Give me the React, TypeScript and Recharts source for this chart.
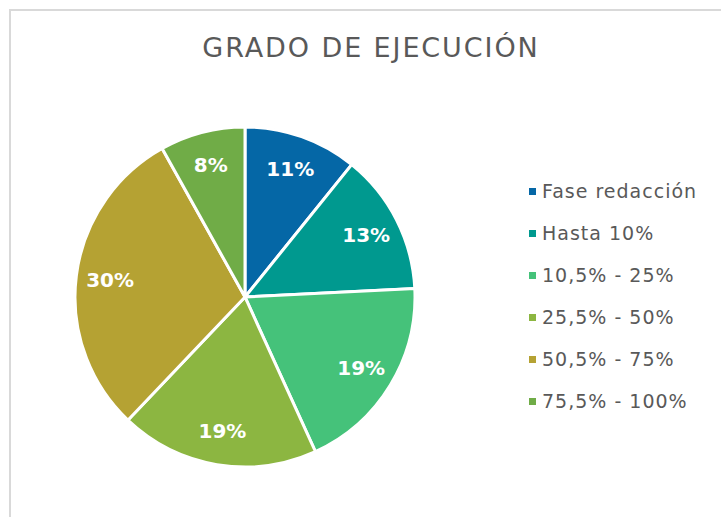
import React from 'react';
import { PieChart, Pie, Cell, Legend } from 'recharts';

const categories = ['Fase redacción', 'Hasta 10%', '10,5% - 25%', '25,5% - 50%', '50,5% - 75%', '75,5% - 100%'];
const shares = [10.8, 13.4, 19.0, 18.9, 29.8, 8.1];
const colors = ['#0567a6', '#00998f', '#45c27a', '#8cb641', '#b5a233', '#70ac47'];
const title = 'GRADO DE EJECUCIÓN';

const data = categories.map((name, i) => ({ name, value: shares[i] }));

const FONT = '"DejaVu Sans", sans-serif';
const RAD = Math.PI / 180;

const renderLabel = (props: any) => {
  const { cx, cy, midAngle, outerRadius, value } = props;
  const r = outerRadius * 0.8;
  const x = cx + r * Math.cos(-midAngle * RAD);
  const y = cy + r * Math.sin(-midAngle * RAD);
  return (
    <text x={x} y={y} fill="#ffffff" textAnchor="middle" dominantBaseline="central"
      fontFamily={FONT} fontWeight="bold" fontSize={20}>
      {Math.round(value) + '%'}
    </text>
  );
};

const renderLegend = () => (
  <div style={{ fontFamily: FONT }}>
    {categories.map((c, i) => (
      <div key={c} style={{ display: 'flex', alignItems: 'center', height: 42 }}>
        <div style={{ width: 7, height: 7, background: colors[i], marginRight: 6 }} />
        <span style={{ fontSize: 19, letterSpacing: 1.0, color: '#595959', whiteSpace: 'nowrap' }}>{c}</span>
      </div>
    ))}
  </div>
);

export default function App() {
  return (
    <div style={{ position: 'absolute', left: 0, top: 0, width: 721, height: 517, overflow: 'hidden', background: '#fff' }}>
      <div style={{ position: 'absolute', left: 9, top: 9, width: 800, height: 600, border: '2px solid #d9d9d9', boxSizing: 'border-box' }} />
      <div style={{ position: 'absolute', left: 0, top: 32, width: 742, textAlign: 'center', fontFamily: FONT, fontSize: 27, letterSpacing: 1.9, color: '#595959', whiteSpace: 'nowrap' }}>
        {title}
      </div>
      <div style={{ position: 'absolute', left: 0, top: 0 }}>
        <PieChart width={721} height={517}>
          <Pie data={data} dataKey="value" nameKey="name" cx={240} cy={292} outerRadius={170}
            startAngle={90} endAngle={-270} stroke="#ffffff" strokeWidth={3}
            label={renderLabel} labelLine={false} isAnimationActive={false}>
            {data.map((d, i) => <Cell key={d.name} fill={colors[i]} />)}
          </Pie>
          <Legend content={renderLegend} layout="vertical" wrapperStyle={{ position: 'absolute', left: 529, top: 170, width: 190 }} />
        </PieChart>
      </div>
    </div>
  );
}
